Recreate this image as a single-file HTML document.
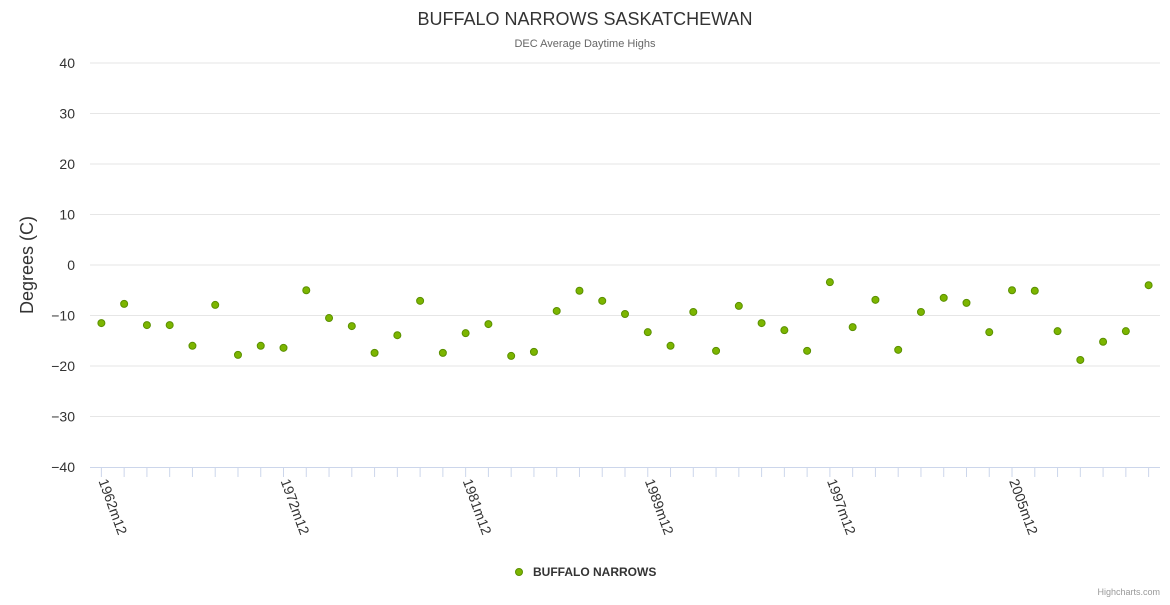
<!DOCTYPE html>
<html><head><meta charset="utf-8"><style>
body{margin:0;background:#fff;font-family:"Liberation Sans",sans-serif}
svg text{font-family:"Liberation Sans",sans-serif}
</style></head><body>
<svg id="chart" width="1170" height="600" xmlns="http://www.w3.org/2000/svg">
<text x="585" y="25" text-anchor="middle" font-size="18" fill="#333">BUFFALO NARROWS SASKATCHEWAN</text>
<text x="585" y="47" text-anchor="middle" font-size="11" fill="#666">DEC Average Daytime Highs</text>
<text transform="translate(33,265) rotate(-90)" text-anchor="middle" font-size="18" fill="#333">Degrees (C)</text>
<g id="grid"></g><g id="xaxis"></g><g id="pts"></g>
<g>
<circle cx="519" cy="572" r="3.5" fill="#7cb500" stroke="#5a9000"/>
<text x="533" y="576" font-size="12" font-weight="bold" fill="#333">BUFFALO NARROWS</text>
</g>
<text x="1160" y="595" text-anchor="end" font-size="9" fill="#999">Highcharts.com</text>
</svg>
<script>
const categories=["1962m12","1963m12","1964m12","1966m12","1967m12","1968m12","1969m12","1971m12","1972m12","1973m12","1974m12","1975m12","1976m12","1977m12","1978m12","1979m12","1981m12","1982m12","1983m12","1984m12","1985m12","1986m12","1987m12","1988m12","1989m12","1990m12","1991m12","1992m12","1993m12","1994m12","1995m12","1996m12","1997m12","1998m12","1999m12","2000m12","2001m12","2002m12","2003m12","2004m12","2005m12","2006m12","2007m12","2008m12","2009m12","2010m12","2011m12"];
const values=[-11.5,-7.7,-11.9,-11.9,-16,-7.9,-17.8,-16,-16.4,-5,-10.5,-12.1,-17.4,-13.9,-7.1,-17.4,-13.5,-11.7,-18,-17.2,-9.1,-5.1,-7.1,-9.7,-13.3,-16,-9.3,-17,-8.1,-11.5,-12.9,-17,-3.4,-12.3,-6.9,-16.8,-9.3,-6.5,-7.5,-13.3,-5,-5.1,-13.1,-18.8,-15.2,-13.1,-4];
const yTicks=[40,30,20,10,0,-10,-20,-30,-40];
const labelEvery=8;
const NS="http://www.w3.org/2000/svg";
const L=90,R=1160,T=63,B=467,yMin=-40,yMax=40;
const y=v=>B-(v-yMin)/(yMax-yMin)*(B-T);
const bw=(R-L)/categories.length;
const x=i=>L+(i+0.5)*bw;
function mk(t,a,p){const e=document.createElementNS(NS,t);for(const k in a)e.setAttribute(k,a[k]);p.appendChild(e);return e;}
const grid=document.getElementById('grid');
yTicks.forEach(v=>{
 if(v!==yMin){const l=mk('line',{x1:L,x2:R,y1:y(v),y2:y(v),stroke:'#e6e6e6'},grid);
 
 }
 const t=mk('text',{x:75,y:y(v)+5,'text-anchor':'end','font-size':14,fill:'#333'},grid);
 t.textContent=v===0?'0':(v<0?'−'+(-v):v);
 
 
});
const xa=document.getElementById('xaxis');
const al=mk('line',{x1:L,x2:R,y1:B+0.5,y2:B+0.5,stroke:'#ccd6eb'},xa);


categories.forEach((c,i)=>{
 const tk=mk('line',{x1:x(i),x2:x(i),y1:B,y2:B+10,stroke:'#ccd6eb'},xa);
 
 
 if(i%labelEvery===0){
  const t=mk('text',{transform:`translate(${x(i)-3},${B+14}) rotate(70)`,'font-size':14,fill:'#333'},xa);
  t.textContent=c;
  
  
 }
});
const pts=document.getElementById('pts');
values.forEach((v,i)=>{
 const c=mk('circle',{cx:x(i),cy:y(v),r:3.5,fill:'#7cb500',stroke:'#5a9000','stroke-width':1},pts);
 
 
});
</script>
</body></html>
